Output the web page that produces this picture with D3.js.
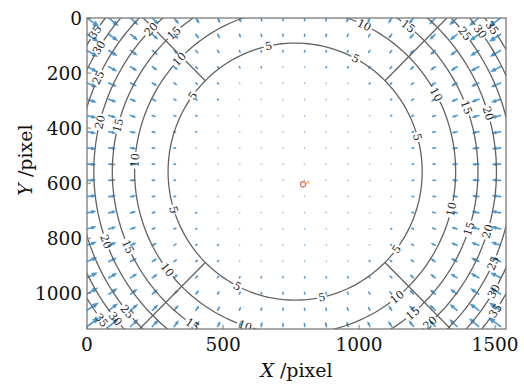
<!DOCTYPE html>
<html>
<head>
<meta charset="utf-8">
<script src="https://cdn.jsdelivr.net/npm/d3@7"></script>
<style>
  html, body { margin: 0; padding: 0; background: #fff; }
  svg { display: block; }
  .tick-label { font-family: "DejaVu Serif", "Liberation Serif", serif; font-size: 18.5px; fill: #111; }
  .axis-title { font-family: "DejaVu Serif", "Liberation Serif", serif; font-size: 19px; fill: #111; }
  .clabel { font-family: "DejaVu Serif", "Liberation Serif", serif; font-size: 11px; fill: #222; }
</style>
</head>
<body>
<div id="chart"></div>
<script>
// image extent (pixels of the calibrated camera image)
var imageWidth = 1540;
var imageHeight = 1130;

var xTicks = [0, 500, 1000, 1500];
var yTicks = [0, 200, 400, 600, 800, 1000];

// contour levels and the radius (from the distortion centre) where each one sits
var contourLevels = [5, 10, 15, 20, 25, 30, 35];
var contourRadii = [467, 590, 672, 740, 800, 850, 893];
var distCenter = [765, 558];

// displacement magnitude read against radius, used for the arrow field
var profileRadius = [0, 250, 350, 467, 590, 672, 740, 800, 850, 893, 970];
var profileDisp = [0, 0.8, 2.1, 5, 10, 15, 20, 25, 30, 35, 45];

// arrow grid (image coords)
var gridX = d3.range(20).map(function (i) { return i * 80; });
var gridY = d3.range(20).map(function (i) { return i * 59; });

// image centre 'o' and principal point 'x'
var imageCenter = [794, 604];
var principalPoint = [812, 597];

// contour label spots: [level, angle in degrees around the distortion centre]
var labelSpots = [
  [35, -145.4], [30, -148], [25, -154.7], [20, -165.9], [15, -165.5], [10, -176],
  [20, -135.7], [15, -131.5], [10, -136.2], [5, -143.8],
  [5, -102.1], [5, -61.5], [10, -64.5], [15, -51.8], [25, -38.8], [30, -36.8], [35, -35.8],
  [10, -28.4], [15, -20.3], [20, -16.6], [5, -15.6],
  [10, 13.4], [15, 18], [20, 17.1], [5, 37.1], [25, 24.6], [30, 30.8], [35, 34.5],
  [10, 50.6], [15, 50], [20, 48],
  [5, 117], [5, 77.9], [10, 108.2], [15, 124.2],
  [5, 162.8], [20, 159.9], [15, 156], [10, 142.8], [25, 140.5], [30, 141], [35, 142.8]
];

// cut lines leave the 5 contour along these directions
var diagonalAngles = [-135, -45, 45, 135];

var width = 524, height = 386;
var margin = { top: 18, right: 18, bottom: 57, left: 87 };
var innerW = width - margin.left - margin.right;
var innerH = height - margin.top - margin.bottom;

var svg = d3.select('#chart').append('svg')
  .attr('width', width)
  .attr('height', height);

var x = d3.scaleLinear().domain([0, imageWidth]).range([margin.left, margin.left + innerW]);
var y = d3.scaleLinear().domain([0, imageHeight]).range([margin.top, margin.top + innerH]);
var dispScale = d3.scaleLinear().domain(profileRadius).range(profileDisp);
var radiusOf = d3.scaleOrdinal().domain(contourLevels).range(contourRadii);

var defs = svg.append('defs');
defs.append('clipPath').attr('id', 'plotClip')
  .append('rect')
  .attr('x', margin.left).attr('y', margin.top)
  .attr('width', innerW).attr('height', innerH);

function deg2rad(deg) {
  return deg * Math.PI / 180;
}

function labelPos(level, ang) {
  var r = radiusOf(level);
  var a = deg2rad(ang);
  return [x(distCenter[0] + r * Math.cos(a)), y(distCenter[1] + r * Math.sin(a))];
}

function labelRot(ang) {
  var rot = ang + 90;
  while (rot > 90) rot -= 180;
  while (rot <= -90) rot += 180;
  return rot;
}

// mask that breaks the contour lines under the labels
var mask = defs.append('mask').attr('id', 'labelGaps')
  .attr('maskUnits', 'userSpaceOnUse')
  .attr('x', 0).attr('y', 0).attr('width', width).attr('height', height);
mask.append('rect').attr('width', width).attr('height', height).attr('fill', '#fff');
labelSpots.forEach(function (s) {
  var p = labelPos(s[0], s[1]);
  var w = String(s[0]).length * 7 + 3;
  mask.append('rect')
    .attr('x', -w / 2).attr('y', -6)
    .attr('width', w).attr('height', 12)
    .attr('fill', '#000')
    .attr('transform', 'translate(' + p[0] + ',' + p[1] + ') rotate(' + labelRot(s[1]) + ')');
});

var plot = svg.append('g').attr('clip-path', 'url(#plotClip)');

// arrow field
var arrows = [];
gridY.forEach(function (gy) {
  gridX.forEach(function (gx) {
    var dx = distCenter[0] - gx, dy = distCenter[1] - gy;
    var r = Math.sqrt(dx * dx + dy * dy);
    arrows.push({ x: gx, y: gy, ux: dx / r, uy: dy / r, m: dispScale(r) });
  });
});

var arrowG = plot.append('g')
  .attr('stroke', '#3a8bcb')
  .attr('stroke-linecap', 'round')
  .attr('fill', 'none');

arrowG.selectAll('path')
  .data(arrows)
  .enter().append('path')
  .attr('stroke-width', function (d) { return d.m < 3 ? 1.3 : 1.6; })
  .attr('stroke-opacity', function (d) { return d.m < 3 ? 0.55 : 0.9; })
  .attr('d', function (d) {
    var len = Math.max(d.m * 0.32, 0.6);
    var x0 = x(d.x), y0 = y(d.y);
    var x1 = x0 + d.ux * len, y1 = y0 + d.uy * len;
    var p = 'M' + x0 + ',' + y0 + 'L' + x1 + ',' + y1;
    if (len > 3) {
      var h = len * 0.35, a = deg2rad(22);
      var bx = -d.ux, by = -d.uy;
      var c = Math.cos(a), s = Math.sin(a);
      p += 'M' + (x1 + h * (bx * c - by * s)) + ',' + (y1 + h * (bx * s + by * c)) +
        'L' + x1 + ',' + y1 +
        'L' + (x1 + h * (bx * c + by * s)) + ',' + (y1 + h * (-bx * s + by * c));
    }
    return p;
  });

// contours and cut lines
var lineG = plot.append('g')
  .attr('mask', 'url(#labelGaps)')
  .attr('stroke', '#626262')
  .attr('stroke-width', 1.3)
  .attr('fill', 'none');

var angles = d3.range(0, 361, 2);

lineG.selectAll('path.contour')
  .data(contourLevels)
  .enter().append('path')
  .attr('class', 'contour')
  .attr('d', function (lv) {
    var r = radiusOf(lv);
    return d3.line()
      .x(function (a) { return x(distCenter[0] + r * Math.cos(deg2rad(a))); })
      .y(function (a) { return y(distCenter[1] + r * Math.sin(deg2rad(a))); })(angles);
  });

lineG.selectAll('line.cut')
  .data(diagonalAngles)
  .enter().append('line')
  .attr('class', 'cut')
  .attr('x1', function (a) { return x(distCenter[0] + contourRadii[0] * Math.cos(deg2rad(a))); })
  .attr('y1', function (a) { return y(distCenter[1] + contourRadii[0] * Math.sin(deg2rad(a))); })
  .attr('x2', function (a) { return x(distCenter[0] + 1400 * Math.cos(deg2rad(a))); })
  .attr('y2', function (a) { return y(distCenter[1] + 1400 * Math.sin(deg2rad(a))); });

// contour labels
plot.append('g').selectAll('text')
  .data(labelSpots)
  .enter().append('text')
  .attr('class', 'clabel')
  .attr('text-anchor', 'middle')
  .attr('dy', '0.35em')
  .attr('transform', function (s) {
    var p = labelPos(s[0], s[1]);
    return 'translate(' + p[0] + ',' + p[1] + ') rotate(' + labelRot(s[1]) + ')';
  })
  .text(function (s) { return s[0]; });

// centre markers
plot.append('circle')
  .attr('cx', x(imageCenter[0])).attr('cy', y(imageCenter[1]))
  .attr('r', 2.6)
  .attr('fill', 'none')
  .attr('stroke', '#e0704f')
  .attr('stroke-width', 1.1);
var px = x(principalPoint[0]), py = y(principalPoint[1]);
plot.append('path')
  .attr('d', 'M' + (px - 1.5) + ',' + (py - 1.5) + 'L' + (px + 1.5) + ',' + (py + 1.5) +
    'M' + (px - 1.5) + ',' + (py + 1.5) + 'L' + (px + 1.5) + ',' + (py - 1.5))
  .attr('stroke', '#e8a040')
  .attr('stroke-width', 1);

// frame and ticks
svg.append('rect')
  .attr('x', margin.left).attr('y', margin.top)
  .attr('width', innerW).attr('height', innerH)
  .attr('fill', 'none')
  .attr('stroke', '#7a7a7a')
  .attr('stroke-width', 1.3);

var tickG = svg.append('g').attr('stroke', '#7a7a7a').attr('stroke-width', 1);
tickG.selectAll('line.xt')
  .data(xTicks)
  .enter().append('line')
  .attr('x1', function (d) { return x(d); }).attr('x2', function (d) { return x(d); })
  .attr('y1', margin.top + innerH).attr('y2', margin.top + innerH - 4);
tickG.selectAll('line.yt')
  .data(yTicks)
  .enter().append('line')
  .attr('y1', function (d) { return y(d); }).attr('y2', function (d) { return y(d); })
  .attr('x1', margin.left).attr('x2', margin.left + 4);

svg.append('g').selectAll('text')
  .data(xTicks)
  .enter().append('text')
  .attr('class', 'tick-label')
  .attr('text-anchor', 'middle')
  .attr('x', function (d) { return x(d); })
  .attr('y', margin.top + innerH + 22)
  .text(function (d) { return d; });

svg.append('g').selectAll('text')
  .data(yTicks)
  .enter().append('text')
  .attr('class', 'tick-label')
  .attr('text-anchor', 'end')
  .attr('dy', '0.36em')
  .attr('x', margin.left - 5)
  .attr('y', function (d) { return y(d); })
  .text(function (d) { return d; });

var xt = svg.append('text')
  .attr('class', 'axis-title')
  .attr('text-anchor', 'middle')
  .attr('x', margin.left + innerW / 2)
  .attr('y', 377);
xt.append('tspan').attr('font-style', 'italic').text('X');
xt.append('tspan').text(' /pixel');

var yt = svg.append('text')
  .attr('class', 'axis-title')
  .attr('text-anchor', 'middle')
  .attr('transform', 'translate(32,160) rotate(-90)');
yt.append('tspan').attr('font-style', 'italic').text('Y');
yt.append('tspan').text(' /pixel');
</script>
</body>
</html>
